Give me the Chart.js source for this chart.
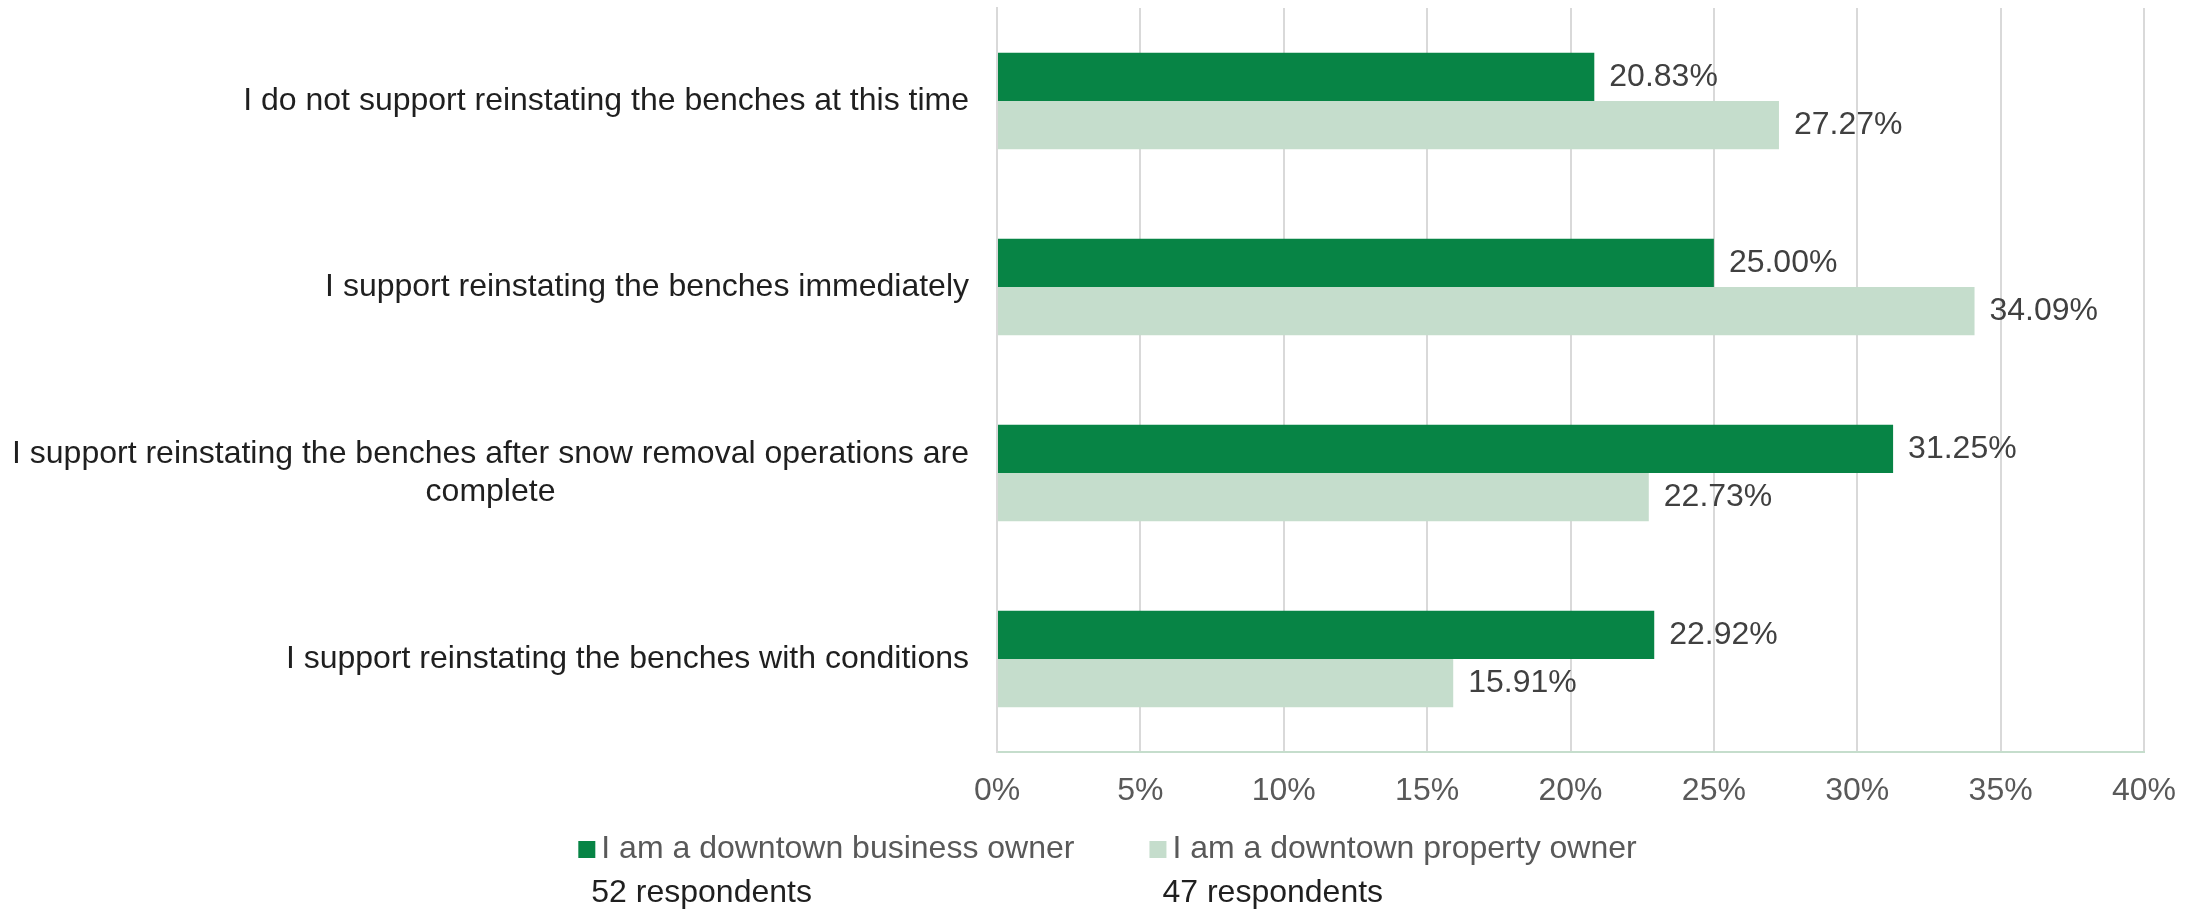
<!DOCTYPE html>
<html>
<head>
<meta charset="utf-8">
<script src="https://cdn.jsdelivr.net/npm/chart.js@4/dist/chart.umd.min.js"></script>
<style>
  html, body { margin: 0; padding: 0; background: #ffffff; overflow: hidden; }
  #wrap { width: 2203px; height: 909px; }
</style>
</head>
<body>
<div id="wrap"><canvas id="c" width="2203" height="909"></canvas></div>
<script>
// ---- Data ----
const categories = [
  "I do not support reinstating the benches at this time",
  "I support reinstating the benches immediately",
  ["I support reinstating the benches after snow removal operations are", "complete"],
  "I support reinstating the benches with conditions"
];
const seriesNames = ["I am a downtown business owner", "I am a downtown property owner"];
const respondents = ["52 respondents", "47 respondents"];
const businessOwner = [20.83, 25.00, 31.25, 22.92];
const propertyOwner = [27.27, 34.09, 22.73, 15.91];
const xTicks = { min: 0, max: 40, step: 5 };

// ---- Styles ----
const FONT = '"Liberation Sans", Arial, sans-serif';
const FS = 32;
const colors = ["#078445", "#C5DDCC"];

const categoryLabelsPlugin = {
  id: 'categoryLabels',
  afterDraw(chart) {
    const ctx = chart.ctx;
    const yScale = chart.scales.y;
    const right = chart.chartArea.left - 28;
    const lineH = 38;
    ctx.save();
    ctx.font = FS + 'px ' + FONT;
    ctx.fillStyle = '#1f1f1f';
    ctx.textBaseline = 'middle';
    ctx.textAlign = 'center';
    categories.forEach((lab, i) => {
      const lines = Array.isArray(lab) ? lab : [lab];
      const maxW = Math.max(...lines.map(l => ctx.measureText(l).width));
      const cx = right - maxW / 2;
      const cy = yScale.getPixelForValue(i);
      lines.forEach((l, j) => {
        ctx.fillText(l, cx, cy + (j - (lines.length - 1) / 2) * lineH);
      });
    });
    ctx.restore();
  }
};

const valueLabelsPlugin = {
  id: 'valueLabels',
  afterDatasetsDraw(chart) {
    const ctx = chart.ctx;
    ctx.save();
    ctx.font = FS + 'px ' + FONT;
    ctx.fillStyle = '#404040';
    ctx.textBaseline = 'middle';
    ctx.textAlign = 'left';
    chart.data.datasets.forEach((ds, di) => {
      const meta = chart.getDatasetMeta(di);
      meta.data.forEach((el, i) => {
        ctx.fillText(ds.data[i].toFixed(2) + '%', el.x + 15, el.y);
      });
    });
    ctx.restore();
  }
};

const legendPlugin = {
  id: 'customLegend',
  afterDraw(chart) {
    const ctx = chart.ctx;
    const box = 17, gapText = 6, itemGap = 75;
    ctx.save();
    ctx.font = FS + 'px ' + FONT;
    const widths = seriesNames.map(n => box + gapText + ctx.measureText(n).width);
    const total = widths.reduce((a, b) => a + b, 0) + itemGap * (widths.length - 1);
    let x = (chart.width - total) / 2 + 6;
    const yLeg = 849, yResp = 893;
    ctx.textBaseline = 'middle';
    ctx.textAlign = 'left';
    seriesNames.forEach((n, i) => {
      ctx.fillStyle = colors[i];
      ctx.fillRect(x, yLeg - 8, box, box);
      ctx.fillStyle = '#595959';
      ctx.fillText(n, x + box + gapText, yLeg);
      ctx.fillStyle = '#1f1f1f';
      ctx.fillText(respondents[i], x + 13, yResp);
      x += widths[i] + itemGap;
    });
    ctx.restore();
  }
};

new Chart(document.getElementById('c'), {
  type: 'bar',
  data: {
    labels: categories,
    datasets: [
      { label: seriesNames[0], data: businessOwner, backgroundColor: colors[0], borderWidth: 0 },
      { label: seriesNames[1], data: propertyOwner, backgroundColor: colors[1], borderWidth: 0 }
    ]
  },
  options: {
    indexAxis: 'y',
    responsive: false,
    devicePixelRatio: 1,
    animation: false,
    layout: { padding: { top: 8, right: 59, bottom: 0, left: 0 } },
    datasets: { bar: { categoryPercentage: 0.52, barPercentage: 1.0 } },
    plugins: {
      legend: { display: false },
      tooltip: { enabled: false }
    },
    scales: {
      x: {
        min: xTicks.min, max: xTicks.max,
        ticks: {
          stepSize: xTicks.step,
          callback: v => v + '%',
          font: { family: FONT, size: FS },
          color: '#595959',
          padding: 20,
          maxRotation: 0
        },
        grid: { color: '#D9D9D9', lineWidth: 2, drawTicks: false },
        border: { display: true, color: '#C5DDCC', width: 2 },
        afterFit(scale) { scale.height = 157; }
      },
      y: {
        ticks: { display: false },
        grid: { display: false, drawTicks: false },
        border: { display: true, color: '#D9D9D9', width: 2 },
        afterFit(scale) { scale.width = 997; }
      }
    }
  },
  plugins: [categoryLabelsPlugin, valueLabelsPlugin, legendPlugin]
});
</script>
</body>
</html>
